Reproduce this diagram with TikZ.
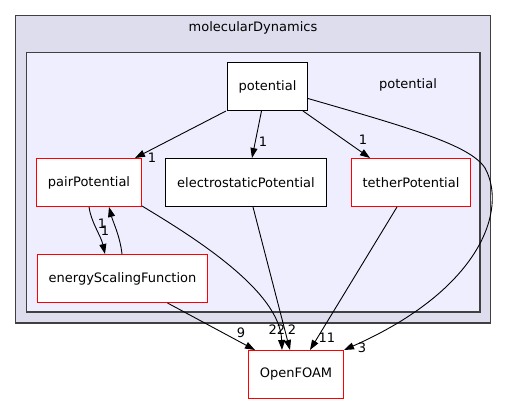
\documentclass[tikz,border=0pt]{standalone}
\usepackage{fontspec}
\setmainfont{DejaVu Sans}
\usetikzlibrary{arrows.meta,calc}
\definecolor{outerfill}{HTML}{DDDDEE}
\definecolor{innerfill}{HTML}{EEEEFF}
\definecolor{boxline}{HTML}{404040}
\begin{document}
\begin{tikzpicture}[x=1pt,y=-1pt,
  every node/.style={font=\fontsize{13}{15}\selectfont},
  dirbox/.style={draw=black,fill=white,line width=1pt,minimum height=48pt,inner sep=0pt},
  redbox/.style={draw=red,fill=white,line width=1pt,minimum height=48pt,inner sep=0pt},
  dep/.style={-{Triangle[length=10pt,width=7pt]},line width=0.9pt,black},
  lbl/.style={inner sep=0pt,font=\fontsize{13}{15}\selectfont}]
\useasboundingbox (0,0) rectangle (507,404);
\draw[boxline,fill=outerfill,line width=1.2pt] (15.5,15.5) rectangle (490.5,323);
\node at (253,27.5) {molecularDynamics};
\draw[boxline,fill=innerfill,line width=1.2pt] (26.5,52.5) rectangle (480,312);
\node at (408,85) {potential};
\node[dirbox,minimum width=80pt] (pot) at (267.5,86.5) {potential};
\node[redbox,minimum width=105pt] (pair) at (89,182.5) {pairPotential};
\node[dirbox,minimum width=161pt] (elec) at (246,182.5) {electrostaticPotential};
\node[redbox,minimum width=119pt] (teth) at (411,182.5) {tetherPotential};
\node[redbox,minimum width=170pt] (esf) at (122.5,278.5) {energyScalingFunction};
\node[redbox,minimum width=95pt] (of) at (296,374.5) {OpenFOAM};
% potential -> pairPotential
\draw[dep] ($(pot.south west)+(-1,0)$) -- ($(pair.north east)+(-7,0)$);
\node[lbl] at (152,158) {1};
% potential -> electrostaticPotential
\draw[dep] ($(pot.south)+(-6,0)$) -- ($(elec.north)+(6,0)$);
\node[lbl] at (263,142) {1};
% potential -> tetherPotential
\draw[dep] ($(pot.south east)+(-5,0)$) -- ($(teth.north)+(-41,0)$);
\node[lbl] at (363,140) {1};
% potential -> OpenFOAM
\draw[dep] ($(pot.east)+(0,12)$) .. controls (410,128) and (470,145) .. (485,168)
  .. controls (508,210) and (480,290) .. ($(of.north east)+(0,0)$);
\node[lbl] at (362,348) {3};
% pairPotential <-> energyScalingFunction
\draw[dep] ($(pair.south west)+(53,0)$) .. controls (91,222) and (101,236) .. ($(esf.north west)+(68,0)$);
\node[lbl] at (102,224) {1};
\draw[dep] ($(esf.north west)+(85,0)$) .. controls (120,236) and (113,222) .. ($(pair.south west)+(73,0)$);
\node[lbl] at (105,231) {1};
% pairPotential -> OpenFOAM
\draw[dep] ($(pair.south east)+(0,-1)$) .. controls (190,235) and (280,290) .. ($(of.north west)+(34,0)$);
\node[lbl] at (277,330) {22};
% electrostaticPotential -> OpenFOAM
\draw[dep] ($(elec.south)+(7,0)$) -- ($(of.north west)+(42,0)$);
\node[lbl] at (292,330) {2};
% tetherPotential -> OpenFOAM
\draw[dep] ($(teth.south)+(-14,0)$) -- ($(of.north west)+(62,0)$);
\node[lbl] at (327,338) {11};
% energyScalingFunction -> OpenFOAM
\draw[dep] ($(esf.south)+(45,0)$) -- ($(of.north west)+(7,0)$);
\node[lbl] at (241,333) {9};
\end{tikzpicture}
\end{document}
